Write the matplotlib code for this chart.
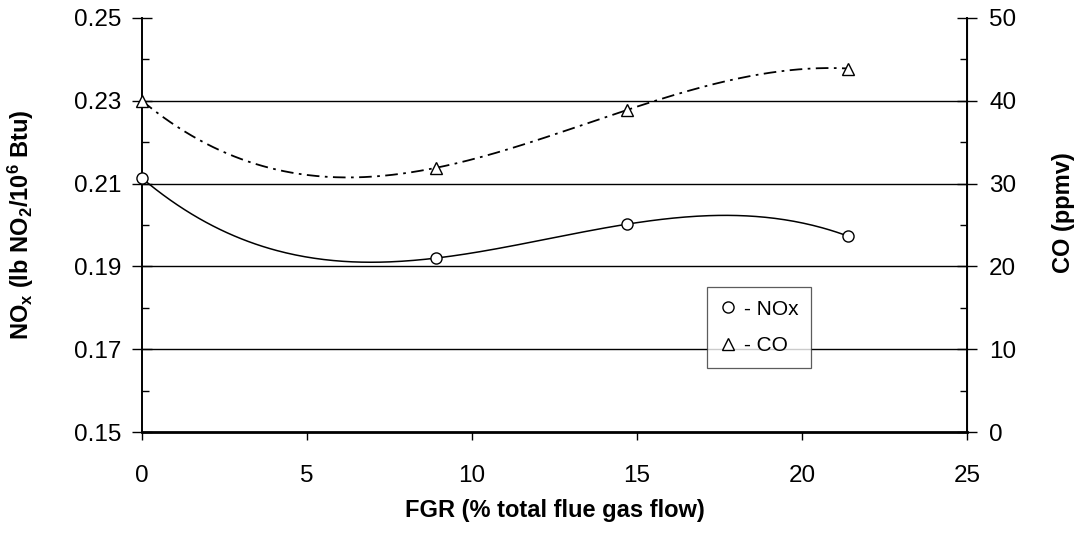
import numpy as np
import matplotlib
matplotlib.use("Agg")
import matplotlib.pyplot as plt
from matplotlib.lines import Line2D
from matplotlib.ticker import MultipleLocator

plt.rcParams["font.family"] = ["Liberation Sans", "DejaVu Sans"]
plt.rcParams["mathtext.fontset"] = "custom"
plt.rcParams["mathtext.bf"] = "Liberation Sans:bold"
plt.rcParams["mathtext.rm"] = "Liberation Sans:bold"
plt.rcParams["mathtext.default"] = "bf"

# data
fgr = [0.0, 8.9, 14.7, 21.4]
nox = [0.2113, 0.1920, 0.2002, 0.1973]
co = [40.0, 31.9, 38.9, 43.9]

fig = plt.figure(figsize=(10.81, 5.37), dpi=100)
ax = fig.add_axes([0.1314, 0.1955, 0.7631, 0.771])
ax2 = ax.twinx()

# cubic trendlines through the points
xs = np.linspace(min(fgr), max(fgr), 300)
ax.plot(xs, np.polyval(np.polyfit(fgr, nox, 3), xs), color="black", lw=1.1, zorder=3)
ax2.plot(xs, np.polyval(np.polyfit(fgr, co, 3), xs), color="black", lw=1.3,
         dashes=(7, 3, 1.5, 3), zorder=3)

ax.plot(fgr, nox, ls="none", marker="o", ms=8, mfc="white", mec="black", mew=1, zorder=4,
        clip_on=False)
ax2.plot(fgr, co, ls="none", marker="^", ms=9, mfc="white", mec="black", mew=1, zorder=4,
         clip_on=False)

ax.set_xlim(0, 25)
ax.set_ylim(0.15, 0.25)
ax2.set_ylim(0, 50)
ax.set_xticks([0, 5, 10, 15, 20, 25])
ax.set_yticks([0.15, 0.17, 0.19, 0.21, 0.23, 0.25])
ax.set_yticklabels(["0.15", "0.17", "0.19", "0.21", "0.23", "0.25"])
ax.yaxis.set_minor_locator(MultipleLocator(0.01))
ax2.set_yticks([0, 10, 20, 30, 40, 50])
ax2.yaxis.set_minor_locator(MultipleLocator(5))

for y in [0.17, 0.19, 0.21, 0.23]:
    ax.axhline(y, color="black", lw=1.0, zorder=1)

for a in (ax, ax2):
    a.spines["top"].set_visible(False)
    a.patch.set_visible(False)
ax.spines["bottom"].set_linewidth(2)
ax.spines["left"].set_linewidth(1.4)
ax2.spines["right"].set_linewidth(1.4)
ax2.spines["bottom"].set_visible(False)
ax2.spines["left"].set_visible(False)

ax.tick_params(axis="x", direction="out", length=6, width=1, labelsize=17.5, pad=18)
ax.tick_params(axis="y", which="major", direction="inout", length=14, width=1,
               labelsize=17.5, pad=8)
ax.tick_params(axis="y", which="minor", direction="in", length=5, width=1)
ax2.tick_params(axis="y", which="major", direction="inout", length=14, width=1,
                labelsize=17.5, pad=9)
ax2.tick_params(axis="y", which="minor", direction="in", length=5, width=1)

ax.set_xlabel("FGR (% total flue gas flow)", fontsize=17, fontweight="bold")
ax.xaxis.set_label_coords(0.5, -0.162)
ax.set_ylabel(r"NO$_{x}$ (lb NO$_{2}$/10$^{6}$ Btu)", fontsize=17, fontweight="bold")
ax.yaxis.set_label_coords(-0.128, 0.5)
ax2.set_ylabel("CO (ppmv)", fontsize=17, fontweight="bold")
ax2.yaxis.set_label_coords(1.103, 0.53)

handles = [
    Line2D([], [], ls="none", marker="o", ms=8, mfc="white", mec="black", mew=1),
    Line2D([], [], ls="none", marker="^", ms=9, mfc="white", mec="black", mew=1),
]
leg = ax2.legend(handles, ["- NOx", "- CO"], loc="upper left",
                 bbox_to_anchor=(0.685, 0.35), frameon=True, fancybox=False,
                 edgecolor="#333333", fontsize=15, handlelength=0.8, handletextpad=0.35,
                 labelspacing=0.85, borderpad=0.6, borderaxespad=0)
leg.get_frame().set_linewidth(0.9)

fig.savefig("out.png", dpi=100)
